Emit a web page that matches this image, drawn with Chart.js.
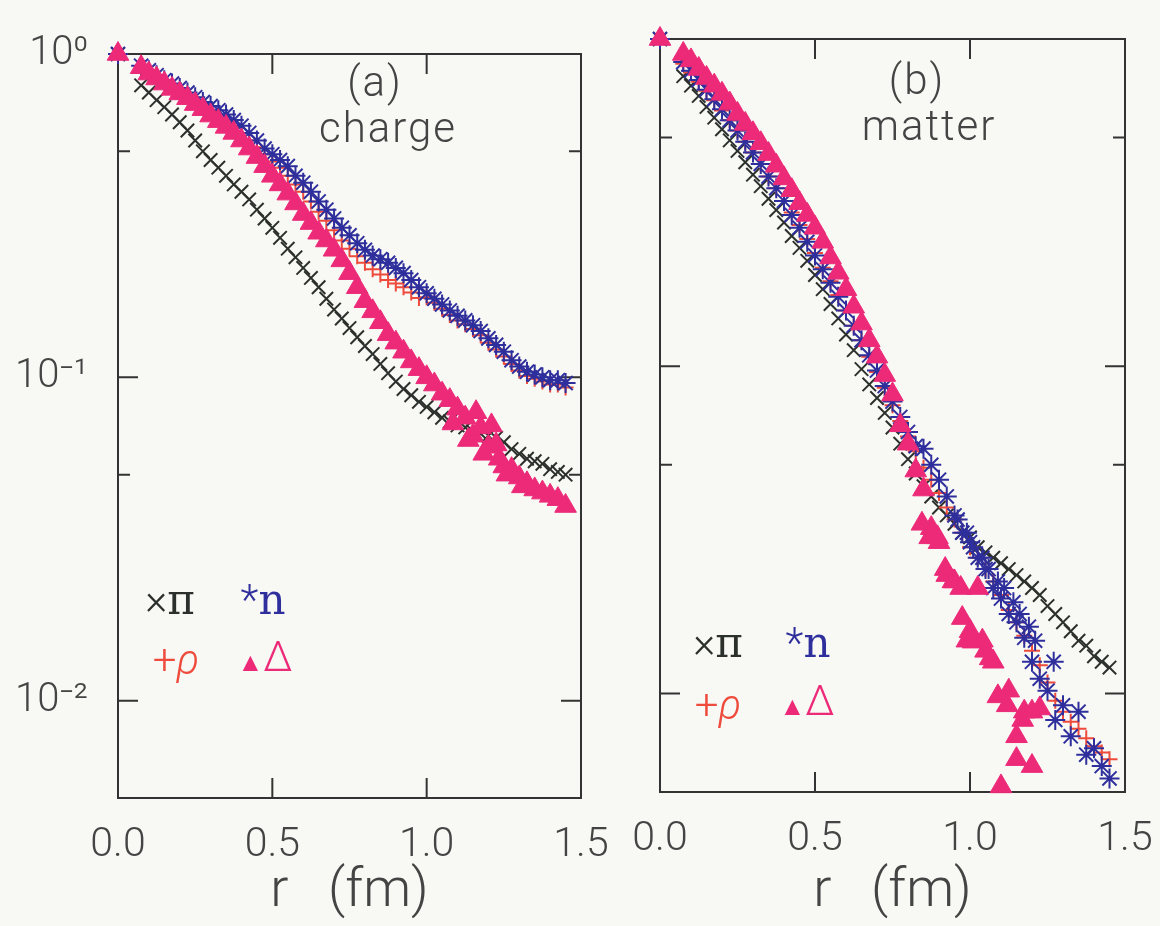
<!DOCTYPE html>
<html>
<head>
<meta charset="utf-8">
<script src="https://cdn.jsdelivr.net/npm/chart.js@4.4.1/dist/chart.umd.min.js"></script>
<style>
  html, body { margin: 0; padding: 0; background: #f8f8f4; }
  #wrap { position: relative; width: 1160px; height: 926px; overflow: hidden; }
  canvas { position: absolute; top: 0; }
  #chartA { left: 0; }
  #chartB { left: 620px; }
  .txt { position: absolute; transform: translate(-50%, -50%); white-space: nowrap;
         font-family: Roboto, 'DejaVu Sans', sans-serif; font-weight: 300; color: #444; line-height: 1; }
  .big { font-size: 42px; letter-spacing: 2px; }
  .leg { font-size: 42px; }
  .pi { color: #2c302c; }
  .rho { color: #ee4b3c; }
  .nn { color: #2e2f9c; }
  .del { color: #ec2a78; }
  .serif { font-family: 'DejaVu Serif', 'Liberation Serif', serif; }
</style>
</head>
<body>
<div id="wrap">
  <canvas id="chartA" width="620" height="926"></canvas>
  <canvas id="chartB" width="540" height="926"></canvas>

  <div class="txt big" style="left:375px; top:82px;">(a)</div>
  <div class="txt big" style="left:388px; top:128px;">charge</div>
  <div class="txt big" style="left:917px; top:80px;">(b)</div>
  <div class="txt big" style="left:929px; top:126px;">matter</div>

  <div class="txt leg pi" style="left:170px; top:600px;">×<span class="serif">π</span></div>
  <div class="txt leg nn" style="left:263px; top:600px;">*<b class="serif">n</b></div>
  <div class="txt leg rho" style="left:176px; top:660px;">+<i>ρ</i></div>
  <div class="txt leg del" style="left:265px; top:657px;"><span style="font-size:26px">▲</span>Δ</div>

  <div class="txt leg pi" style="left:718px; top:643px;">×<span class="serif">π</span></div>
  <div class="txt leg nn" style="left:808px; top:643px;">*<b class="serif">n</b></div>
  <div class="txt leg rho" style="left:718px; top:705px;">+<i>ρ</i></div>
  <div class="txt leg del" style="left:807px; top:701px;"><span style="font-size:26px">▲</span>Δ</div>
</div>
<script>
// radial distance r (fm), shared by the main series
const rValues = [0, 0.075, 0.1, 0.125, 0.15, 0.175, 0.2, 0.225, 0.25, 0.275,
  0.3, 0.325, 0.35, 0.375, 0.4, 0.425, 0.45, 0.475, 0.5, 0.525,
  0.55, 0.575, 0.6, 0.625, 0.65, 0.675, 0.7, 0.725, 0.75, 0.775,
  0.8, 0.825, 0.85, 0.875, 0.9, 0.925, 0.95, 0.975, 1.0, 1.025,
  1.05, 1.075, 1.1, 1.125, 1.15, 1.175, 1.2, 1.225, 1.25, 1.275,
  1.3, 1.325, 1.35, 1.375, 1.4, 1.425, 1.45];

// (a) charge
const chargePi = [1, 0.80, 0.76, 0.72, 0.685, 0.65, 0.615, 0.58, 0.54, 0.50,
  0.47, 0.445, 0.42, 0.395, 0.375, 0.355, 0.33, 0.31, 0.29, 0.27,
  0.25, 0.235, 0.218, 0.203, 0.19, 0.175, 0.162, 0.152, 0.142, 0.133,
  0.125, 0.118, 0.11, 0.103, 0.097, 0.092, 0.088, 0.084, 0.081, 0.078,
  0.075, 0.073, 0.071, 0.070, 0.068, 0.067, 0.066, 0.065, 0.063, 0.060,
  0.058, 0.056, 0.055, 0.054, 0.052, 0.051, 0.050];
const chargeRho = [1, 0.90, 0.87, 0.845, 0.815, 0.79, 0.765, 0.74, 0.715, 0.69,
  0.665, 0.64, 0.615, 0.595, 0.57, 0.54, 0.515, 0.49, 0.465, 0.445,
  0.42, 0.395, 0.375, 0.35, 0.325, 0.305, 0.285, 0.265, 0.25, 0.237,
  0.226, 0.216, 0.208, 0.2, 0.195, 0.19, 0.183, 0.176, 0.177, 0.17,
  0.163, 0.156, 0.15, 0.146, 0.141, 0.135, 0.128, 0.122, 0.116, 0.11,
  0.105, 0.101, 0.099, 0.097, 0.095, 0.095, 0.093];
const chargeN = [1, 0.92, 0.89, 0.86, 0.83, 0.81, 0.785, 0.76, 0.735, 0.71,
  0.69, 0.67, 0.65, 0.625, 0.60, 0.57, 0.54, 0.51, 0.49, 0.47,
  0.45, 0.42, 0.40, 0.375, 0.35, 0.33, 0.31, 0.29, 0.275, 0.26,
  0.248, 0.238, 0.232, 0.226, 0.218, 0.21, 0.20, 0.19, 0.182, 0.175,
  0.168, 0.161, 0.155, 0.15, 0.145, 0.139, 0.132, 0.126, 0.12, 0.113,
  0.108, 0.104, 0.102, 0.10, 0.098, 0.098, 0.096];
const chargeDelta = [1, 0.91, 0.87, 0.84, 0.81, 0.78, 0.755, 0.73, 0.70, 0.675,
  0.645, 0.62, 0.595, 0.57, 0.54, 0.51, 0.48, 0.45, 0.42, 0.395,
  0.37, 0.345, 0.32, 0.30, 0.28, 0.265, 0.248, 0.23, 0.21, 0.19,
  0.172, 0.16, 0.148, 0.136, 0.128, 0.12, 0.112, 0.106, 0.10, 0.095,
  0.089, 0.085, 0.080, 0.075, 0.066, 0.070, 0.061, 0.062, 0.053, 0.052,
  0.049, 0.047, 0.045, 0.044, 0.043, 0.042, 0.040];
// extra scattered triangles of (a) between the main ones
const chargeDeltaExtraR = [1.085, 1.135, 1.16, 1.185, 1.21, 1.235, 1.26, 1.31];
const chargeDeltaExtra = [0.072, 0.064, 0.078, 0.058, 0.071, 0.056, 0.05, 0.046];

// (b) matter
const matterPi = [1, 0.77, 0.72, 0.67, 0.62, 0.575, 0.53, 0.49, 0.455, 0.42,
  0.385, 0.355, 0.325, 0.30, 0.275, 0.25, 0.23, 0.21, 0.19, 0.172,
  0.155, 0.14, 0.125, 0.112, 0.098, 0.088, 0.08, 0.072, 0.065, 0.058,
  0.052, 0.047, 0.043, 0.04, 0.037, 0.035, 0.033, 0.031, 0.030, 0.028,
  0.027, 0.026, 0.025, 0.024, 0.023, 0.022, 0.021, 0.020, 0.0185, 0.0175,
  0.0165, 0.0155, 0.0145, 0.014, 0.013, 0.0125, 0.012];
const matterRho = [1, 0.84, 0.79, 0.74, 0.695, 0.65, 0.605, 0.565, 0.525, 0.485,
  0.45, 0.415, 0.38, 0.35, 0.32, 0.295, 0.27, 0.245, 0.222, 0.2,
  0.182, 0.165, 0.148, 0.133, 0.12, 0.107, 0.096, 0.086, 0.076, 0.068,
  0.061, 0.055, 0.049, 0.045, 0.041, 0.037, 0.034, 0.031, 0.028, 0.026,
  0.024, 0.022, 0.02, 0.018, 0.0165, 0.015, 0.0135, 0.0122, 0.0108, 0.0095,
  0.0088, 0.0082, 0.0078, 0.0073, 0.0069, 0.0066, 0.0063];
const matterN = [1, 0.85, 0.80, 0.75, 0.70, 0.655, 0.61, 0.565, 0.525, 0.485,
  0.45, 0.415, 0.38, 0.35, 0.32, 0.29, 0.265, 0.24, 0.218, 0.198,
  0.18, 0.163, 0.148, 0.133, 0.12, 0.108, 0.097, 0.087, 0.078, 0.07,
  0.063, 0.057, 0.056, 0.05, 0.045, 0.04, 0.035, 0.031, 0.029, 0.026,
  0.024, 0.021, 0.0195, 0.0175, 0.0165, 0.0148, 0.0125, 0.0111, 0.0102, 0.0083,
  0.0092, 0.0074, 0.0088, 0.0065, 0.0068, 0.0060, 0.0055];
// upper group of stars in (b) that sits among the crosses
const matterNExtraR = [0.96, 0.99, 1.01, 1.04, 1.06, 1.09, 1.11, 1.14, 1.16, 1.19, 1.21, 1.27];
const matterNExtra = [0.034, 0.031, 0.028, 0.026, 0.024, 0.022, 0.021, 0.019, 0.0175, 0.016, 0.0145, 0.0125];
const matterDelta = [1, 0.90, 0.86, 0.81, 0.76, 0.72, 0.68, 0.635, 0.59, 0.55,
  0.515, 0.48, 0.445, 0.41, 0.375, 0.345, 0.315, 0.29, 0.265, 0.24,
  0.215, 0.193, 0.172, 0.152, 0.135, 0.12, 0.107, 0.094, 0.082, 0.066,
  0.058, 0.048, 0.042, 0.032, 0.029, 0.023, 0.022, 0.017, 0.0155, 0.021,
  0.0135, 0.0125, 0.0052, 0.0102, 0.0074, 0.0088, 0.006, 0.009, null, null,
  null, null, null, null, null, null, null];
// rows of triangles in (b) beyond r = 0.8
const matterDeltaExtraR = [0.845, 0.87, 0.895, 0.92, 0.945, 0.97, 0.99, 1.01, 1.04, 1.065, 1.09, 1.12, 1.15, 1.17, 1.2];
const matterDeltaExtra = [0.033, 0.030, 0.030, 0.024, 0.022, 0.021, 0.0145, 0.0144, 0.0145, 0.0128, 0.0098, 0.0092, 0.0063, 0.0083, 0.0088];

// axes
const xTickValues = [0, 0.5, 1.0, 1.5];
const xTickMarks = [0.5, 1.0];
const yTickValues = [0.005, 0.01, 0.05, 0.1, 0.5, 1];
const yMajorMarks = [0.1, 0.01];
const yMinorMarks = [0.5, 0.05];
const yTickLabels = { '1': '10⁰', '0.1': '10⁻¹', '0.01': '10⁻²' };

const colors = { pi: '#2c302c', rho: '#ee4b3c', n: '#2e2f9c', delta: '#ec2a78' };
const textColor = '#444';
const fontFamily = "Roboto, 'DejaVu Sans', sans-serif";

function toPoints(rs, ys) {
  return rs.map((r, i) => ({ x: r, y: ys[i] })).filter(p => p.y != null);
}

function makeDatasets(pi, rho, n, delta) {
  return [
    { label: 'Δ', data: delta, order: 0, pointStyle: 'triangle', pointRadius: 12.5,
      backgroundColor: colors.delta, borderColor: colors.delta, borderWidth: 1 },
    { label: 'n', data: n, order: 1, pointStyle: 'star', pointRadius: 10,
      borderColor: colors.n, backgroundColor: colors.n, borderWidth: 2 },
    { label: 'ρ', data: rho, order: 2, pointStyle: 'cross', pointRadius: 8,
      borderColor: colors.rho, backgroundColor: colors.rho, borderWidth: 2 },
    { label: 'π', data: pi, order: 3, pointStyle: 'crossRot', pointRadius: 9.5,
      borderColor: colors.pi, backgroundColor: colors.pi, borderWidth: 2 }
  ].map(d => Object.assign(d, { showLine: false, clip: false, pointHoverRadius: d.pointRadius }));
}

// box round the plot, with inward ticks on all four sides
const frameTicks = {
  id: 'frameTicks',
  beforeDatasetsDraw(chart) {
    const { ctx, chartArea: a } = chart;
    const x = chart.scales.x, y = chart.scales.y;
    ctx.save();
    ctx.strokeStyle = '#333';
    ctx.lineWidth = 2;
    ctx.strokeRect(a.left, a.top, a.right - a.left, a.bottom - a.top);
    ctx.beginPath();
    xTickMarks.forEach(v => {
      const px = x.getPixelForValue(v);
      ctx.moveTo(px, a.top); ctx.lineTo(px, a.top + 20);
      ctx.moveTo(px, a.bottom); ctx.lineTo(px, a.bottom - 20);
    });
    const yMark = (v, len) => {
      const py = y.getPixelForValue(v);
      ctx.moveTo(a.left, py); ctx.lineTo(a.left + len, py);
      ctx.moveTo(a.right, py); ctx.lineTo(a.right - len, py);
    };
    yMajorMarks.forEach(v => yMark(v, 20));
    yMinorMarks.forEach(v => yMark(v, 12));
    ctx.stroke();
    ctx.restore();
  }
};

function makeChart(id, datasets, opts) {
  return new Chart(document.getElementById(id), {
    type: 'scatter',
    data: { datasets },
    options: {
      responsive: false,
      animation: false,
      events: [],
      layout: { padding: { top: opts.top, right: opts.right, left: 0, bottom: 0 } },
      plugins: { legend: { display: false }, tooltip: { enabled: false } },
      scales: {
        x: {
          type: 'linear', min: 0, max: 1.5,
          afterBuildTicks: s => { s.ticks = xTickValues.map(v => ({ value: v })); },
          afterFit: s => { s.height = opts.xHeight; s.paddingLeft = 0; s.paddingRight = 0; },
          grid: { display: false, drawTicks: false },
          border: { display: false },
          ticks: { callback: v => Number(v).toFixed(1), autoSkip: false, maxRotation: 0,
                   padding: 23, color: textColor, font: { family: fontFamily, size: 41, weight: '300' } },
          title: { display: true, text: 'r   (fm)', color: textColor, padding: { top: 0, bottom: 1 },
                   font: { family: fontFamily, size: 54, weight: '300' } }
        },
        y: {
          type: 'logarithmic', min: 0.005, max: 1,
          afterBuildTicks: s => { s.ticks = yTickValues.map(v => ({ value: v })); },
          afterFit: s => { s.width = opts.yWidth; },
          grid: { display: false, drawTicks: false },
          border: { display: false },
          ticks: { display: opts.yLabels, autoSkip: false, padding: 30, color: textColor,
                   callback: v => yTickLabels[String(v)] || '',
                   font: { family: fontFamily, size: 40, weight: '300' } }
        }
      }
    },
    plugins: [frameTicks]
  });
}

makeChart('chartA', makeDatasets(
    toPoints(rValues, chargePi),
    toPoints(rValues, chargeRho),
    toPoints(rValues, chargeN),
    toPoints(rValues, chargeDelta).concat(toPoints(chargeDeltaExtraR, chargeDeltaExtra))),
  { top: 42, right: 39, xHeight: 128, yWidth: 118, yLabels: true });
makeChart('chartB', makeDatasets(
    toPoints(rValues, matterPi),
    toPoints(rValues, matterRho),
    toPoints(rValues, matterN).concat(toPoints(matterNExtraR, matterNExtra)),
    toPoints(rValues, matterDelta).concat(toPoints(matterDeltaExtraR, matterDeltaExtra))),
  { top: 39, right: 35, xHeight: 134, yWidth: 40, yLabels: false });
</script>
</body>
</html>
